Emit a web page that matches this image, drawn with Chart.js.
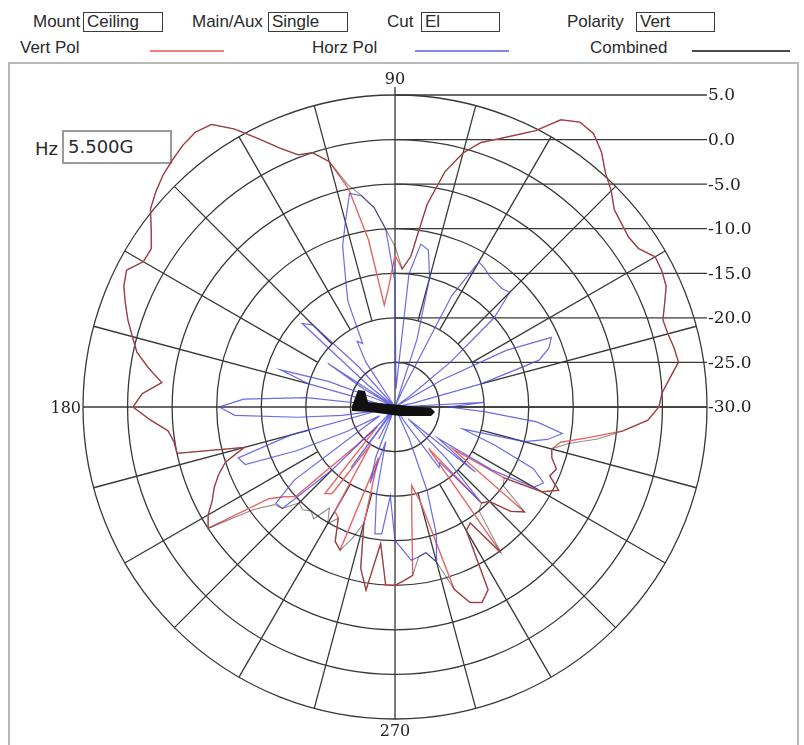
<!DOCTYPE html>
<html>
<head>
<meta charset="utf-8">
<script src="https://cdn.jsdelivr.net/npm/chart.js@4.4.0/dist/chart.umd.min.js"></script>
<style>
  html, body { margin: 0; padding: 0; background: #fff; }
  body { width: 804px; height: 745px; position: relative; overflow: hidden;
         font-family: "Liberation Sans", Arial, sans-serif; color: #2a2a2a; }
  .lbl { position: absolute; font-size: 17px; line-height: 18px; white-space: nowrap; }
  .box { position: absolute; height: 20px; border: 1.5px solid #3a3a3a; box-sizing: border-box;
         font-size: 17px; line-height: 17px; padding-left: 3px; background: #fff; overflow: visible; }
  .key { position: absolute; height: 2px; }
  #frame { position: absolute; left: 8px; top: 62px; width: 791px; height: 700px;
           border: 2px solid #b8b8b8; border-bottom: none; box-sizing: border-box; }
  #hz { position: absolute; left: 35px; top: 139px; font-family: "DejaVu Sans", sans-serif;
        font-size: 18px; line-height: 20px; }
  #hzbox { position: absolute; left: 62px; top: 130px; width: 110px; height: 34px; box-sizing: border-box;
           border: 2px solid #9a9a9a; font-family: "DejaVu Sans", sans-serif; font-size: 18px;
           line-height: 30px; padding-left: 4px; background: #fff; }
  canvas { position: absolute; left: 0; top: 0; }
</style>
</head>
<body>
<div class="lbl" style="left:33px; top:13px;">Mount</div>
<div class="box" style="left:83px; top:12px; width:80px;">Ceiling</div>
<div class="lbl" style="left:192px; top:13px;">Main/Aux</div>
<div class="box" style="left:268px; top:12px; width:80px;">Single</div>
<div class="lbl" style="left:387px; top:13px;">Cut</div>
<div class="box" style="left:421px; top:12px; width:79px;">El</div>
<div class="lbl" style="left:567px; top:13px;">Polarity</div>
<div class="box" style="left:636px; top:12px; width:79px;">Vert</div>

<div class="lbl" style="left:20px; top:39px;">Vert Pol</div>
<div class="key" style="left:150px; top:50px; width:74px; background:#f07c7c;"></div>
<div class="lbl" style="left:312px; top:39px;">Horz Pol</div>
<div class="key" style="left:415px; top:50px; width:94px; background:#8484ee;"></div>
<div class="lbl" style="left:590px; top:39px;">Combined</div>
<div class="key" style="left:692px; top:50px; width:98px; background:#4a4a4a;"></div>

<div id="frame"></div>
<div id="hz">Hz</div>
<div id="hzbox">5.500G</div>
<canvas id="polarChart" width="804" height="745"></canvas>

<script>
// angles in degrees, counter-clockwise from 0 (right), 3 degree steps
const ANGLES = Array.from({ length: 120 }, (_, i) => i * 3);

// Combined (dB)
const combinedDb = [
  -0.4, 0.0, 1.0, 2.2, 2.0, 1.7, 1.6, 2.4, 3.3, 3.6,
  3.7, 2.6, 2.4, 2.7, 3.1, 4.3, 5.3, 6.8, 7.9, 8.1,
  7.2, 4.8, 3.4, 2.2, 1.2, -0.5, -3.0, -7.0, -13.0, -14.5,
  -12.0, -10.0, -7.5, -6.0, -4.5, -1.5, 0.0, 0.3, 1.8, 3.8,
  6.0, 7.8, 8.1, 7.8, 7.3, 6.8, 6.1, 5.3, 3.8, 2.6,
  2.6, 3.8, 3.3, 2.4, 1.5, 0.5, -0.4, -2.0, -3.7, -1.6,
  -0.6, -2.5, -4.4, -4.9, -5.0, -12.5, -10.0, -8.8, -7.8, -7.0,
  -5.8, -5.0, -10.5, -12.6, -13.0, -14.8, -14.5, -15.0, -14.5, -16.5,
  -14.9, -16.0, -13.5, -12.8, -14.5, -16.5, -11.5, -9.2, -14.6, -10.0,
  -10.0, -10.5, -11.0, -13.0, -13.3, -12.0, -8.5, -6.5, -6.0, -7.0,
  -14.0, -14.5, -9.8, -15.0, -15.5, -15.0, -12.5, -11.3, -15.0, -15.4,
  -11.0, -9.4, -11.0, -10.6, -11.5, -11.8, -10.2, -7.0, -4.3, -1.6
];

// Vert Pol (dB)
const vertPolDb = [
  -0.4, 0.0, 1.0, 2.2, 2.0, 1.7, 1.6, 2.4, 3.3, 3.6,
  3.7, 2.6, 2.4, 2.7, 3.1, 4.3, 5.3, 6.8, 7.9, 8.1,
  7.2, 4.8, 3.4, 2.2, 1.2, -0.5, -3.0, -7.0, -13.0, -14.5,
  -13.0, -16.5, -18.5, -11.0, -5.0, -1.5, 0.0, 0.3, 1.8, 3.8,
  6.0, 7.8, 8.1, 7.8, 7.3, 6.8, 6.1, 5.3, 3.8, 2.6,
  2.6, 3.8, 3.3, 2.4, 1.5, 0.5, -0.4, -2.0, -3.7, -1.6,
  -0.6, -2.5, -4.4, -4.9, -5.0, -12.5, -10.0, -8.8, -7.8, -7.0,
  -5.8, -5.0, -12.5, -14.0, -15.0, -24.0, -27.0, -17.5, -18.0, -25.0,
  -16.5, -16.0, -13.5, -12.8, -24.0, -16.5, -11.5, -9.2, -14.6, -10.0,
  -10.0, -10.5, -11.0, -18.0, -21.0, -19.0, -8.5, -6.5, -6.0, -7.0,
  -14.0, -14.5, -9.8, -24.0, -15.5, -15.0, -12.5, -11.3, -22.0, -15.4,
  -11.0, -9.4, -11.0, -10.6, -11.5, -11.8, -11.0, -8.0, -4.3, -1.6
];

// Horz Pol (dB)
const horzPolDb = [
  -24, -20, -30, -30, -28, -20, -13, -11.5, -10.8, -16,
  -24, -30, -28, -22, -15, -11.8, -12.1, -12.0, -11.9, -11.5,
  -11.2, -16, -28, -30, -22, -15, -12, -11.5, -15, -28,
  -16, -10, -7.5, -6, -5.5, -8.5, -11, -14.5, -17, -22,
  -21.5, -24, -30, -30, -24, -17, -16, -26, -30, -21,
  -26, -30, -28, -22, -16.5, -20, -28, -30, -20, -13,
  -10.3, -12, -19, -24, -28, -18, -11.5, -12, -18, -24,
  -28, -26, -16, -12.8, -13, -20, -28, -30, -21.6, -28,
  -30, -26, -30, -24, -21, -26, -20, -15.6, -15.7, -20,
  -15, -14, -12.7, -13, -13.3, -12, -15, -20, -26, -30,
  -30, -28, -21.6, -22, -15.6, -22, -28, -18.4, -24, -17,
  -12, -11.3, -13, -18, -22, -15, -12.5, -11, -14, -20
];

const LEVELS = [5, 0, -5, -10, -15, -20, -25, -30];
const SPOKE_ANGLES = Array.from({ length: 24 }, (_, i) => i * 15);
const AXIS_LABELS = { 90: '90', 180: '180', 270: '270' };
const GRID_COLOR = '#383838';

// radar goes clockwise from startAngle, so reorder to counter-clockwise
const N = ANGLES.length;
const order = ANGLES.map((_, k) => (N - k) % N);
const toChart = arr => order.map(i => arr[i]);

const polarDecor = {
  id: 'polarDecor',
  beforeDatasetsDraw(chart) {
    const r = chart.scales.r;
    const ctx = chart.ctx;
    const cx = r.xCenter, cy = r.yCenter, R = r.drawingArea;
    const inner = r.getDistanceFromCenterForValue(-20);
    ctx.save();
    ctx.strokeStyle = GRID_COLOR;
    ctx.lineWidth = 1.3;
    SPOKE_ANGLES.forEach(a => {
      if (a % 90 === 0) return;
      const t = a * Math.PI / 180;
      ctx.beginPath();
      ctx.moveTo(cx + inner * Math.cos(t), cy - inner * Math.sin(t));
      ctx.lineTo(cx + R * Math.cos(t), cy - R * Math.sin(t));
      ctx.stroke();
    });
    // main axes
    ctx.beginPath();
    ctx.moveTo(cx, cy - R - 8);
    ctx.lineTo(cx, cy + R);
    ctx.moveTo(cx - R, cy);
    ctx.lineTo(cx + R, cy);
    ctx.stroke();
    // level lines and labels on the right
    ctx.font = '17px "DejaVu Serif", serif';
    ctx.fillStyle = '#222';
    ctx.textBaseline = 'middle';
    ctx.textAlign = 'left';
    LEVELS.forEach(v => {
      const y = cy - r.getDistanceFromCenterForValue(v);
      ctx.beginPath();
      ctx.moveTo(cx, y);
      ctx.lineTo(cx + R, y);
      ctx.stroke();
      ctx.fillText(v.toFixed(1), cx + R + 1, y + 1);
    });
    ctx.font = '16px "DejaVu Serif", serif';
    ctx.textAlign = 'center';
    ctx.fillText(AXIS_LABELS[90], cx, cy - R - 15);
    ctx.fillText(AXIS_LABELS[270], cx, cy + R + 13);
    ctx.textAlign = 'right';
    ctx.fillText(AXIS_LABELS[180], cx - R - 2, cy + 2);
    ctx.restore();
  },
  afterDatasetsDraw(chart) {
    // small orientation icon at the centre
    const r = chart.scales.r;
    const ctx = chart.ctx;
    const cx = r.xCenter, cy = r.yCenter;
    ctx.save();
    ctx.fillStyle = '#111';
    ctx.beginPath();
    ctx.moveTo(cx - 43, cy - 1);
    ctx.lineTo(cx - 37, cy - 17);
    ctx.lineTo(cx - 30, cy - 16);
    ctx.lineTo(cx - 27, cy - 5);
    ctx.lineTo(cx + 5, cy - 2);
    ctx.lineTo(cx + 36, cy + 1);
    ctx.lineTo(cx + 40, cy + 5);
    ctx.lineTo(cx + 36, cy + 9);
    ctx.lineTo(cx + 5, cy + 9);
    ctx.lineTo(cx - 25, cy + 5);
    ctx.lineTo(cx - 43, cy + 4);
    ctx.closePath();
    ctx.fill();
    ctx.restore();
  }
};

const ctx = document.getElementById('polarChart').getContext('2d');
new Chart(ctx, {
  type: 'radar',
  data: {
    labels: order.map(i => ANGLES[i]),
    datasets: [
      {
        label: 'Combined',
        data: toChart(combinedDb),
        borderColor: 'rgba(45, 25, 28, 0.5)',
        borderWidth: 1.1
      },
      {
        label: 'Horz Pol',
        data: toChart(horzPolDb),
        borderColor: 'rgba(70, 70, 225, 0.8)',
        borderWidth: 1.2
      },
      {
        label: 'Vert Pol',
        data: toChart(vertPolDb),
        borderColor: 'rgb(232, 100, 100)',
        borderWidth: 1.4
      }
    ]
  },
  options: {
    responsive: false,
    animation: false,
    layout: { padding: { left: 83, top: 95, right: 97, bottom: 26 } },
    elements: {
      line: { tension: 0, fill: false },
      point: { radius: 0, hoverRadius: 0 }
    },
    datasets: { radar: { clip: false } },
    plugins: { legend: { display: false }, tooltip: { enabled: false } },
    scales: {
      r: {
        min: -30,
        max: 5,
        startAngle: 90,
        ticks: { display: false, stepSize: 5 },
        grid: { circular: true, color: GRID_COLOR, lineWidth: 1.3 },
        angleLines: { display: false },
        pointLabels: { display: false }
      }
    }
  },
  plugins: [polarDecor]
});
</script>
</body>
</html>
